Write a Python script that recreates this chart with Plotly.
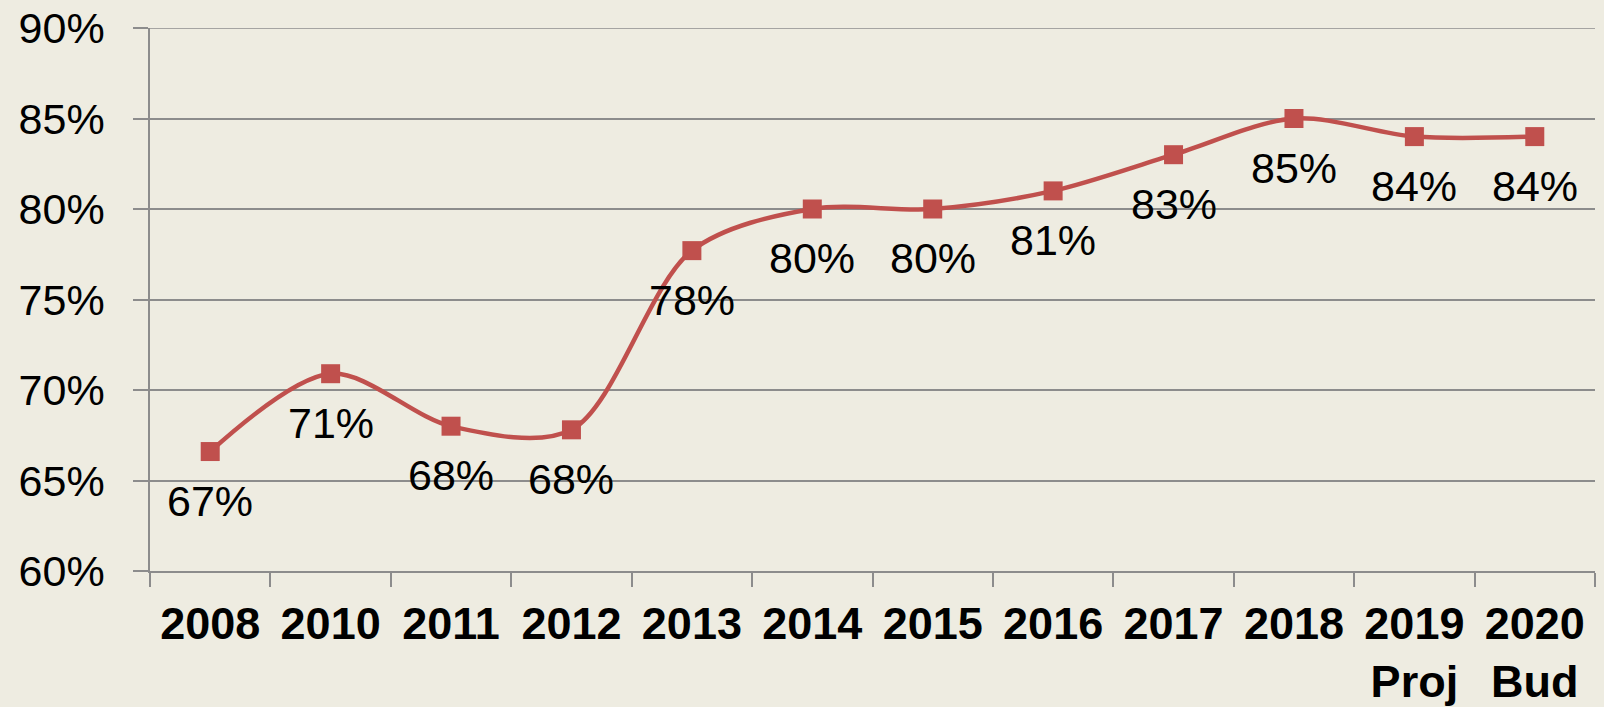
import plotly.graph_objects as go

categories = ["2008", "2010", "2011", "2012", "2013", "2014", "2015", "2016",
              "2017", "2018", "2019<br>Proj", "2020<br>Bud"]
values = [66.6, 70.9, 68.0, 67.8, 77.7, 80.0, 80.0, 81.0, 83.0, 85.0, 84.0, 84.0]
y_ticks = [60, 65, 70, 75, 80, 85, 90]
y_tick_labels = [f"{v}%" for v in y_ticks]

BG = "#EEECE1"
RED = "#C0504D"
GRID = "#8C8C8C"
FONT = "Liberation Sans, Arial, sans-serif"

fig = go.Figure()
fig.add_trace(go.Scatter(
    x=categories, y=values, mode="lines+markers",
    line=dict(color=RED, width=4.5, shape="spline", smoothing=0.9),
    marker=dict(symbol="square", size=19, color=RED),
    hoverinfo="skip", showlegend=False,
))

for i, v in enumerate(values):
    fig.add_annotation(x=i, y=v, xref="x", yref="y", text=f"{round(v)}%", showarrow=False,
                       yshift=-49, font=dict(family=FONT, size=43, color="#000000"))

# top gridline at the range end (plotly hides it)
fig.add_shape(type="line", xref="paper", yref="y", x0=0, x1=1, y0=y_ticks[-1], y1=y_ticks[-1],
              line=dict(color=GRID, width=1.5), layer="below")

fig.update_layout(
    width=1604, height=707,
    paper_bgcolor=BG, plot_bgcolor=BG,
    margin=dict(l=150, r=9, t=28, b=136, autoexpand=False),
    font=dict(family=FONT, color="#000000"),
)
fig.update_xaxes(
    type="category", range=[-0.5, len(categories) - 0.5], autorange=False,
    tickson="boundaries", ticks="outside", ticklen=14, tickangle=0,
    tickwidth=1.5, tickcolor=GRID, showgrid=False, automargin=False,
    showline=True, linecolor=GRID, linewidth=1.5,
    tickfont=dict(family=FONT, size=45, color="#000000", weight="bold"),
    ticklabelstandoff=12,
)
fig.update_yaxes(
    range=[60, 90], autorange=False, tickvals=y_ticks, ticktext=y_tick_labels,
    ticks="outside", ticklen=15, tickwidth=1.5, tickcolor=GRID, automargin=False,
    showgrid=True, gridcolor=GRID, gridwidth=1.5,
    showline=True, linecolor=GRID, linewidth=1.5, zeroline=False,
    tickfont=dict(family=FONT, size=43, color="#000000"),
    ticklabelstandoff=20,
)

fig.write_html("out.html", config={"displayModeBar": False},
               post_script="document.body.style.margin='0';document.body.style.background='#EEECE1';")
